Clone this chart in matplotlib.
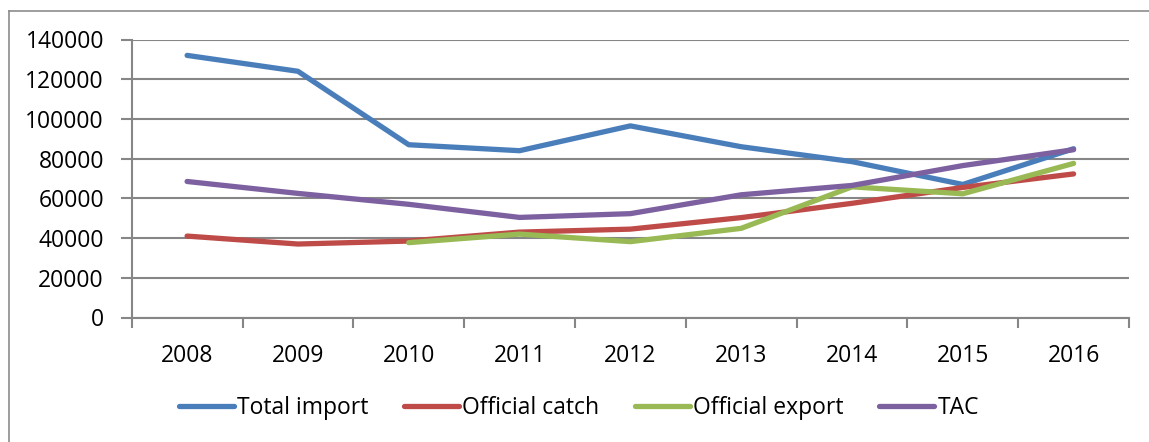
import matplotlib.pyplot as plt
from matplotlib.lines import Line2D

years = ['2008', '2009', '2010', '2011', '2012', '2013', '2014', '2015', '2016']
total_import = [132000, 124000, 87000, 84000, 96500, 86000, 78500, 67000, 85000]
official_catch = [41000, 37000, 38500, 43000, 44500, 50300, 57500, 65500, 72300]
# export starts in 2010
export_years = years[2:]
official_export = [37700, 42000, 38200, 44900, 65800, 62300, 77600]
tac = [68500, 62500, 57000, 50400, 52300, 61800, 66500, 76500, 84500]

plt.rcParams['font.family'] = ['Open Sans', 'DejaVu Sans']

fig = plt.figure(figsize=(11.49, 4.42), dpi=100)
ax = fig.add_axes([131.7/1149, 1-317.5/442, (1129-131.7)/1149, 278/442])

grey = '#868686'
x = list(range(len(years)))
xe = x[2:]
ax.plot(x, total_import, color='#4A7EBB', lw=3.8, solid_capstyle='round', solid_joinstyle='round', label='Total import', zorder=3)
ax.plot(x, official_catch, color='#BE4B48', lw=3.8, solid_capstyle='round', solid_joinstyle='round', label='Official catch', zorder=3)
ax.plot(xe, official_export, color='#98B954', lw=3.8, solid_capstyle='round', solid_joinstyle='round', label='Official export', zorder=3)
ax.plot(x, tac, color='#7D60A0', lw=3.8, solid_capstyle='round', solid_joinstyle='round', label='TAC', zorder=3)

ax.set_xlim(-0.5, len(years)-0.5)
ax.set_ylim(0, 140000)
ax.set_yticks(range(0, 140001, 20000))
ax.set_yticklabels([str(v) for v in range(0, 140001, 20000)])
ax.set_xticks([i-0.5 for i in range(len(years)+1)])
ax.set_xticklabels([])
ax.set_xticks(x, minor=True)
ax.set_xticklabels(years, minor=True)
ax.tick_params(axis='x', which='minor', length=0, pad=19, labelsize=16.5)
ax.tick_params(axis='x', which='major', length=7, width=1.5, color=grey, direction='out')
ax.tick_params(axis='y', length=8, width=1.5, color=grey, direction='out', pad=12, labelsize=16.5)

ax.grid(axis='y', color=grey, lw=1.5, zorder=1)
for s in ['top', 'right']:
    ax.spines[s].set_visible(False)
for s in ['left', 'bottom']:
    ax.spines[s].set_color(grey)
    ax.spines[s].set_linewidth(1.5)

ax.legend(loc='center', bbox_to_anchor=(579/1149, 1-408/442), bbox_transform=fig.transFigure,
          ncol=4, frameon=False, fontsize=16.5, handlelength=2.4, handletextpad=0.15,
          columnspacing=1.55)

# outer chart border (left and top only visible)
fig.add_artist(Line2D([8.5/1149, 8.5/1149], [0, 1-10.5/442], color='#8c8c8c', lw=1.2))
fig.add_artist(Line2D([8.5/1149, 1], [1-10.5/442, 1-10.5/442], color='#8c8c8c', lw=1.2))

fig.savefig('out.png', dpi=100)
